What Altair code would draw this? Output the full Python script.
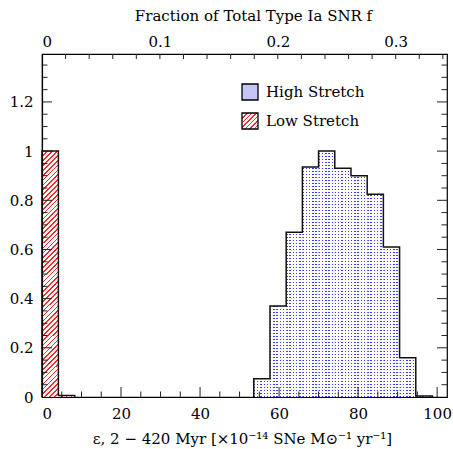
import json
import altair as alt
import pandas as pd

# ---------------- data ----------------
low_edges = [0.0, 4.15, 8.3]
low_vals = [1.0, 0.006]
high_edges = [53.6, 57.7, 61.8, 65.9, 70.0, 74.1, 78.2, 82.3, 86.4, 90.5, 94.6, 98.8]
high_vals = [0.074, 0.37, 0.67, 0.935, 1.0, 0.93, 0.90, 0.825, 0.61, 0.16, 0.004]

series_names = ["High Stretch", "Low Stretch"]

x_labels = [0, 20, 40, 60, 80, 100]
x_major_ticks = [20, 40, 60, 80, 100]
x_minor_ticks = [5, 10, 15, 25, 30, 35, 45, 50, 55, 65, 70, 75, 85, 90, 95]
y_labels = [0, 0.2, 0.4, 0.6, 0.8, 1.0, 1.2]
y_major_ticks = [0.2, 0.4, 0.6, 0.8, 1.0, 1.2]
y_minor_ticks = [0.05, 0.1, 0.15, 0.25, 0.3, 0.35, 0.45, 0.5, 0.55, 0.65, 0.7,
                 0.75, 0.85, 0.9, 0.95, 1.05, 1.1, 1.15, 1.25, 1.3, 1.35]
f_labels = [0, 0.1, 0.2, 0.3]
f_ticks = [0.02, 0.04, 0.06, 0.08, 0.1, 0.12, 0.14, 0.16, 0.18, 0.2, 0.22,
           0.24, 0.26, 0.28, 0.3, 0.32, 0.34]

X_MAX = 102.5
Y_MAX = 1.395
F_MAX = 0.3435

W, H = 405, 343
FONT = "DejaVu Serif"
RED = "#ff2a2a"
BLUE = "#3a3aff"


# ---------------- pattern fills (style only) ----------------
def stripes(n, duty, c_on, c_off, x2, y2):
    stops = []
    p = 1.0 / n
    for k in range(n):
        s = k * p
        m = s + duty * p
        e = min(1.0, s + p)
        stops += [
            {"offset": round(s, 5), "color": c_on},
            {"offset": round(m, 5), "color": c_on},
            {"offset": round(m, 5), "color": c_off},
            {"offset": round(e, 5), "color": c_off},
        ]
    return {"gradient": "linear", "x1": 0, "y1": 0, "x2": x2, "y2": y2, "stops": stops}


# red "///" hatch for the tall bar (bbox about 16 x 246 px)
a = 16.4 / 246.3
c = (a + 1) / (a * a + 1)
red_hatch = stripes(54, 0.33, RED, "white", round(c * a, 5), round(c, 5))
# hatch for the square legend swatch
red_hatch_sq = stripes(7, 0.33, RED, "white", 1, 1)
# blue dots = vertical blue stripes in each bin + white horizontal stripes overlay
blue_v = stripes(5, 0.45, BLUE, "white", 1, 0)
white_h = stripes(82, 0.55, "white", "rgba(255,255,255,0)", 0, 1)

# ---------------- tables ----------------
high_df = pd.DataFrame({"x0": high_edges[:-1], "x1": high_edges[1:], "v": high_vals})
low_df = pd.DataFrame({"x0": low_edges[:-1], "x1": low_edges[1:], "v": low_vals})

hx = [high_edges[0]] + high_edges[:-1] + [high_edges[-1]]
hv = [0] + high_vals + [0]
high_line_df = pd.DataFrame({"x": hx, "v": hv, "i": list(range(len(hx)))})
lx = [low_edges[0]] + low_edges[:-1] + [low_edges[-1]]
lv = [0] + low_vals + [0]
low_line_df = pd.DataFrame({"x": lx, "v": lv, "i": list(range(len(lx)))})

# ---------------- scales and axes ----------------
xscale = alt.Scale(domain=[0, X_MAX], nice=False, zero=False)
yscale = alt.Scale(domain=[0, Y_MAX], nice=False, zero=False)

xaxis = alt.Axis(
    orient="bottom", values=x_labels, ticks=False, tickSize=0, grid=False,
    domain=True, domainColor="black", domainWidth=1.2, zindex=1,
    labelPadding=9, labelFontSize=15,
    title="ε, 2 − 420 Myr [×10⁻¹⁴ SNe M⊙⁻¹ yr⁻¹]",
    titleX=200, titleY=46, titleAlign="center", titleBaseline="alphabetic",
)
yaxis = alt.Axis(
    values=y_labels, format="~g", ticks=False, tickSize=0, grid=False,
    domain=True, domainColor="black", domainWidth=1.2, zindex=1,
    labelPadding=9, labelFontSize=15, title=None,
)
faxis = alt.Axis(
    orient="top", values=f_labels, format="~g", ticks=False, tickSize=0,
    grid=False, domain=False, labelPadding=5, labelFontSize=15,
    title="Fraction of Total Type Ia SNR f",
    titleX=211, titleY=-34, titleAlign="center", titleBaseline="alphabetic",
)


def X(f):
    return alt.X(f, type="quantitative", scale=xscale, axis=xaxis)


def Y(f):
    return alt.Y(f, type="quantitative", scale=yscale, axis=yaxis)


high_rects = alt.Chart(high_df).mark_rect(fill=blue_v).encode(
    x=X("x0"), x2="x1", y=Y("v"), y2=alt.datum(0)
)
dots_overlay = (
    alt.Chart(high_df)
    .transform_aggregate(x0="min(x0)", x1="max(x1)", v="max(v)")
    .mark_rect(fill=white_h)
    .encode(x=X("x0"), x2="x1", y=Y("v"), y2=alt.datum(0))
)
low_rects = alt.Chart(low_df).mark_rect(fill=red_hatch).encode(
    x=X("x0"), x2="x1", y=Y("v"), y2=alt.datum(0)
)
high_line = alt.Chart(high_line_df).mark_line(
    color="#111", strokeWidth=1.5, interpolate="step-after"
).encode(x=X("x"), y=Y("v"), order="i:Q")
low_line = alt.Chart(low_line_df).mark_line(
    color="#111", strokeWidth=1.5, interpolate="step-after"
).encode(x=X("x"), y=Y("v"), order="i:Q")


def xticks(vals, length):
    return alt.Chart(pd.DataFrame({"v": vals})).mark_rule(color="#222", strokeWidth=1).encode(
        x=X("v"), y=alt.value(H), y2=alt.value(H - length)
    )


def yticks(vals, length, right=False):
    x0 = W if right else 0
    x1 = W - length if right else length
    return alt.Chart(pd.DataFrame({"v": vals})).mark_rule(color="#222", strokeWidth=1).encode(
        y=Y("v"), x=alt.value(x0), x2=alt.value(x1)
    )


hatch_expr = json.dumps(red_hatch_sq)
legend_layer = alt.Chart(pd.DataFrame({"series": series_names})).mark_square(
    opacity=0, size=1
).encode(
    fill=alt.Fill(
        "series:N",
        scale=alt.Scale(domain=series_names, range=["#c6c6f6", alt.ExprRef(expr=hatch_expr)]),
        legend=alt.Legend(
            orient="none", legendX=199, legendY=29, title=None,
            symbolType="square", symbolSize=256, symbolStrokeColor="black",
            symbolStrokeWidth=1.3, symbolOpacity=1, labelFontSize=15,
            labelFont=FONT, labelColor="black", rowPadding=7, labelOffset=7,
            padding=0, offset=0,
        ),
    )
)

main = alt.layer(
    high_rects, dots_overlay, low_rects, high_line, low_line,
    xticks(x_major_ticks, 10), xticks(x_minor_ticks, 5.5),
    yticks(y_major_ticks, 10), yticks(y_minor_ticks, 5.5),
    yticks(y_major_ticks, 10, True), yticks(y_minor_ticks, 5.5, True),
    legend_layer,
)

top = alt.Chart(pd.DataFrame({"f": f_ticks})).mark_rule(color="#222", strokeWidth=1).encode(
    x=alt.X("f:Q", scale=alt.Scale(domain=[0, F_MAX], nice=False, zero=False), axis=faxis),
    y=alt.value(0), y2=alt.value(5),
)

chart = (
    alt.layer(main, top)
    .resolve_scale(x="independent")
    .properties(
        width=W, height=H,
        autosize=alt.AutoSizeParams(type="none"),
        padding={"left": 42, "top": 54, "right": 6, "bottom": 52},
        background="white",
    )
    .configure_view(stroke="black", strokeWidth=1.2)
    .configure_axis(
        labelFont=FONT, titleFont=FONT, labelFontSize=15, titleFontSize=15,
        titleFontWeight="normal", labelColor="black", titleColor="black",
    )
    .configure_legend(labelFont=FONT, labelFontSize=15)
)

chart.save("out.html", embed_options={"renderer": "svg", "actions": False})
